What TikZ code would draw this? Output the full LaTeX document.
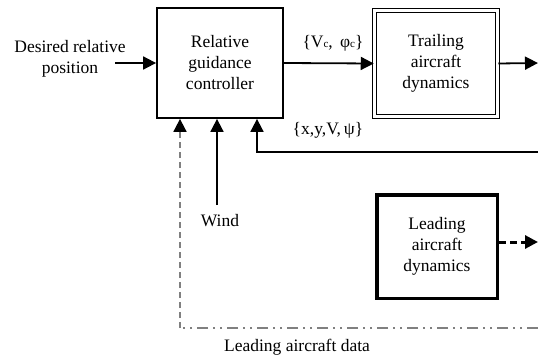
\documentclass[tikz,border=0pt]{standalone}
\usepackage{fontspec}
\setmainfont{Liberation Serif}
\newfontfamily\tms{Liberation Serif}
\usetikzlibrary{arrows.meta}
\begin{document}
\begin{tikzpicture}[x=1pt,y=-1pt,
  font=\tms\fontsize{17.5}{21}\selectfont,
  blk/.style={draw,line width=1.8pt,align=center,inner sep=0pt},
  arr/.style={line width=1.8pt,-{Triangle[length=13pt,width=13pt]}},
  lbl/.style={inner sep=0pt,align=center}]
\useasboundingbox (0,0) rectangle (538,361);
\node[blk,minimum width=126pt,minimum height=110pt] (ctrl) at (220,63) {Relative\\guidance\\controller};
\node[blk,line width=1.5pt,double,double distance=2.2pt,minimum width=123pt,minimum height=106pt] (trail) at (436,63.5) {Trailing\\aircraft\\dynamics};
\node[blk,line width=3.5pt,minimum width=120.5pt,minimum height=103.5pt] (lead) at (437,246.5) {Leading\\aircraft\\dynamics};
\node[lbl] (des) at (70,59) {Desired relative\\position};
\node[lbl] (vc) at (333,43) {\{V\raisebox{-0.5pt}{\fontsize{11}{11}\selectfont c}, \,φ\raisebox{-0.5pt}{\fontsize{11}{11}\selectfont c}\}};
\node[lbl] (fbl) at (328,130) {\{x,y,V,\,ψ\}};
\node[lbl] (wind) at (220,221) {Wind};
\node[lbl] (ldata) at (297,347) {Leading aircraft data};
\coordinate (din) at (115,63);
\coordinate (tout) at (538,63);
\coordinate (fbs) at (538,152);
\coordinate (fbc) at (257,152);
\coordinate (wbot) at (217,205);
\coordinate (ldr) at (538,328);
\coordinate (ldc) at (180,328);
\coordinate (lout) at (538,242);
\draw[arr] (din) -- (ctrl.west);
\draw[arr] (ctrl.east) -- (trail.west);
\draw[arr] (trail.east) -- (tout);
\draw[arr] (fbs) -- (fbc) -- (fbc |- ctrl.south);
\draw[arr] (wbot) -- (wbot |- ctrl.south);
\draw[line width=1.8pt,gray,dash pattern=on 11pt off 5pt on 2pt off 5pt on 2pt off 5pt] (ldr) -- (ldc);
\draw[line width=1.8pt,gray,dash pattern=on 6pt off 4pt,-{Triangle[length=13pt,width=13pt,color=black]}] (ldc) -- (ldc |- ctrl.south);
\draw[line width=3pt,dash pattern=on 7pt off 4pt,-{Triangle[length=13pt,width=13pt]}] (lead.east |- lout) -- (lout);
\end{tikzpicture}
\end{document}
